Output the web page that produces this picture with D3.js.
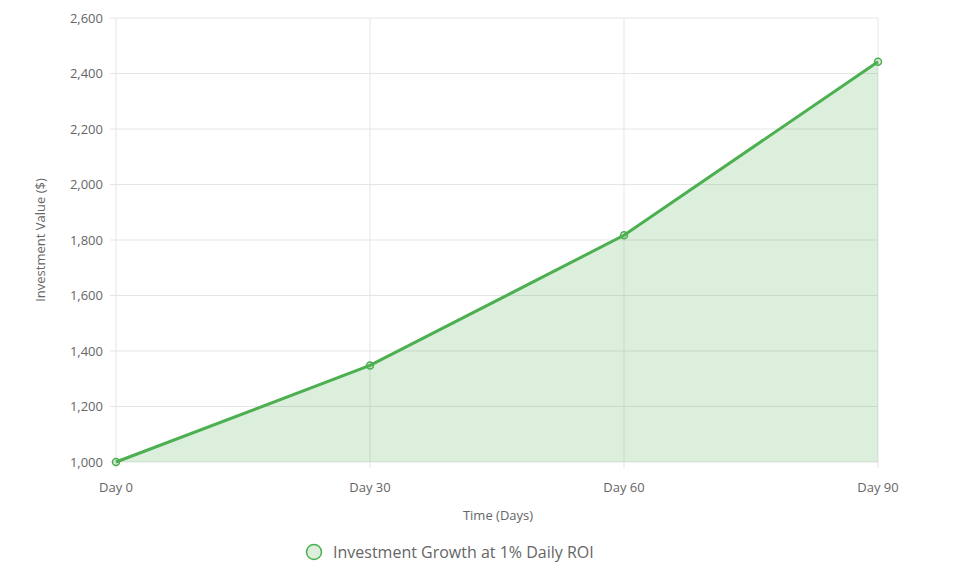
<!DOCTYPE html>
<html><head><meta charset="utf-8">
<script src="https://cdn.jsdelivr.net/npm/d3@7"></script>
<style>body{margin:0;background:#fff;font-family:"Open Sans",Arial,sans-serif}</style>
</head><body><svg id="c" width="956" height="577"></svg>
<script>
const categories=["Day 0","Day 30","Day 60","Day 90"];
const values=[1000,1348,1817,2442];
const yTicks=[1000,1200,1400,1600,1800,2000,2200,2400,2600];
const seriesName="Investment Growth at 1% Daily ROI";
const svg=d3.select("#c");
const x=d3.scalePoint().domain(categories).range([116,878]);
const y=d3.scaleLinear().domain([1000,2600]).range([462,18]);
const g=svg.append("g");
yTicks.forEach(t=>{g.append("line").attr("x1",116).attr("x2",878).attr("y1",y(t)).attr("y2",y(t)).attr("stroke","#e5e5e5");
 g.append("line").attr("x1",110).attr("x2",116).attr("y1",y(t)).attr("y2",y(t)).attr("stroke","#e5e5e5");
 g.append("text").attr("x",103).attr("y",y(t)+4.5).attr("text-anchor","end").attr("font-size",13).attr("fill","#666").text(d3.format(",")(t));});
categories.forEach(c=>{g.append("line").attr("x1",x(c)).attr("x2",x(c)).attr("y1",18).attr("y2",468).attr("stroke","#e5e5e5");
 g.append("text").attr("x",x(c)).attr("y",492).attr("text-anchor","middle").attr("font-size",13).attr("fill","#666").text(c);});
const data=categories.map((c,i)=>({c,v:values[i]}));
g.append("path").datum(data).attr("d",d3.area().x(d=>x(d.c)).y0(y(1000)).y1(d=>y(d.v))).attr("fill","rgba(76,175,80,0.2)");
g.append("path").datum(data).attr("d",d3.line().x(d=>x(d.c)).y(d=>y(d.v))).attr("fill","none").attr("stroke","#4caf50").attr("stroke-width",3);
g.selectAll(".p").data(data).join("circle").attr("cx",d=>x(d.c)).attr("cy",d=>y(d.v)).attr("r",3.5).attr("fill","rgba(76,175,80,0.2)").attr("stroke","#4caf50").attr("stroke-width",1.5);
svg.append("text").attr("x",498).attr("y",520).attr("text-anchor","middle").attr("font-size",13).attr("fill","#666").text("Time (Days)");
svg.append("text").attr("transform","translate(45,240) rotate(-90)").attr("text-anchor","middle").attr("font-size",13).attr("fill","#666").text("Investment Value ($)");
svg.append("circle").attr("cx",314).attr("cy",552).attr("r",7.5).attr("fill","rgba(76,175,80,0.2)").attr("stroke","#4caf50").attr("stroke-width",1.5);
svg.append("text").attr("x",333).attr("y",558).attr("font-size",16).attr("fill","#666").text(seriesName);
</script></body></html>
